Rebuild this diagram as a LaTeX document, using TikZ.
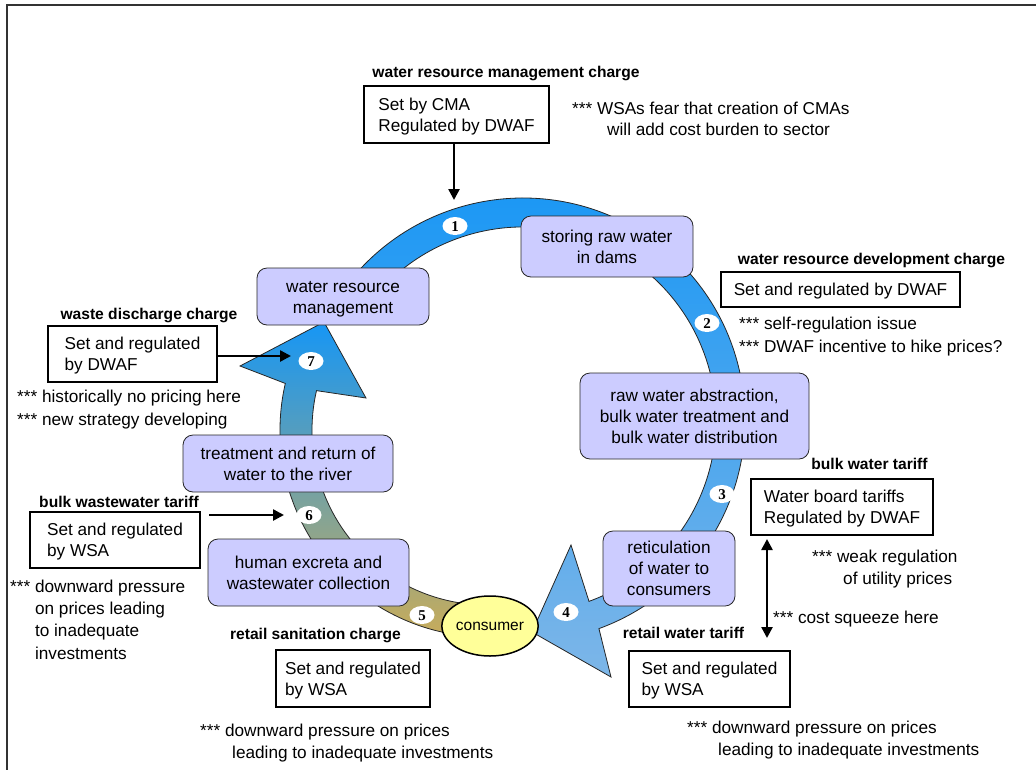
\documentclass[tikz,border=0pt]{standalone}
\usepackage{fontspec}
\setmainfont{Liberation Sans}
\newfontfamily\numfont{Liberation Serif}
\usetikzlibrary{shapes.geometric,arrows.meta}
\definecolor{lav}{RGB}{204,204,255}
\definecolor{cons}{RGB}{255,255,153}
\definecolor{bTop}{RGB}{22,150,245}
\definecolor{aBot}{RGB}{125,182,232}
\definecolor{bMid}{RGB}{115,163,205}
\definecolor{bBot}{RGB}{200,172,90}
\begin{document}
\begin{tikzpicture}[x=1pt,y=-1pt,
  proc/.style={draw=black!85, line width=0.8pt, fill=lav, rounded corners=10pt, align=center, inner sep=0pt, font=\fontsize{17.2}{21}\selectfont},
  chg/.style={draw=black, line width=2pt, fill=white, align=left, inner sep=0pt, font=\fontsize{17.2}{21}\selectfont},
  oneline/.style={text height=12.2pt, text depth=0pt},
  twolines/.style={text height=33.2pt, text depth=0pt},
  threelines/.style={text height=54.2pt, text depth=0pt},
  lbl/.style={anchor=base, inner sep=0pt, font=\bfseries\fontsize{15.6}{18}\selectfont},
  note/.style={anchor=base west, inner sep=0pt, align=left, font=\fontsize{17.2}{22}\selectfont},
  badge/.style={ellipse, fill=white, inner sep=0pt, minimum width=25pt, minimum height=18pt, text height=10pt, text depth=0pt, font=\numfont\bfseries\fontsize{15}{15}\selectfont},
  band/.style={draw=black!85, line width=0.8pt},
  conn/.style={line width=2.5pt, -{Triangle[length=11pt,width=11pt]}},
  dconn/.style={line width=2.5pt, {Triangle[length=11pt,width=11pt]}-{Triangle[length=11pt,width=11pt]}},
]
\useasboundingbox (0,0) rectangle (1036,769);
\clip (0,0) rectangle (1036,769);
\draw[line width=2pt, black!80] (7,5) rectangle (1050,790);

% clockwise supply arrow (1-4)
\begin{scope}[shift={(523,420)}]
\path[band, top color=bTop, bottom color=aBot]
  (-145:222) arc[start angle=-145, end angle=70, radius=222]
  -- (88,257) -- (9,212) -- (48,125)
  -- (70:193) arc[start angle=70, end angle=-145, radius=193] -- cycle;
\end{scope}
% return arrow (5-7)
\begin{scope}[shift={(487,430)}]
\path[band, top color=bTop, middle color=bMid, bottom color=bBot]
  (95:207) arc[start angle=95, end angle=193, radius=207]
  -- (-247,-64) -- (-163,-108) -- (-121,-32)
  -- (193:175) arc[start angle=193, end angle=95, radius=175] -- cycle;
\end{scope}

% badges
\node[badge] (n1) at (455,226) {1};
\node[badge] (n2) at (707,323) {2};
\node[badge] (n3) at (722,494) {3};
\node[badge] (n4) at (566,612) {4};
\node[badge] (n5) at (422,615) {5};
\node[badge] (n6) at (309,515) {6};
\node[badge] (n7) at (311,361) {7};

% process boxes
\node[proc, twolines, minimum width=172pt, minimum height=57pt] (wrm) at (343,296.5) {water resource\\management};
\node[proc, twolines, minimum width=172pt, minimum height=61pt] (store) at (607,246.5) {storing raw water\\in dams};
\node[proc, threelines, minimum width=229pt, minimum height=86pt] (raw) at (694.5,416) {raw water abstraction,\\bulk water treatment and\\bulk water distribution};
\node[proc, threelines, minimum width=132pt, minimum height=75pt] (retic) at (669,568.5) {reticulation\\of water to\\consumers};
\node[proc, twolines, minimum width=201pt, minimum height=67pt] (human) at (308.5,572.5) {human excreta and\\wastewater collection};
\node[proc, twolines, minimum width=210pt, minimum height=57pt] (treat) at (288,463.5) {treatment and return of\\water to the river};
\node[ellipse, draw=black, line width=1.5pt, fill=cons, inner sep=0pt, minimum width=86pt, minimum height=60pt, text height=8pt, text depth=0pt, font=\fontsize{15.5}{18}\selectfont] (cons) at (490,626) {consumer};

% charge labels and boxes
\node[lbl] (l1) at (506,77) {water resource management charge};
\node[chg, twolines, minimum width=185pt, minimum height=57pt] (box1) at (456.5,114.5) {Set by CMA\\Regulated by DWAF};
\node[lbl] (l2) at (871.5,264) {water resource development charge};
\node[chg, oneline, minimum width=239pt, minimum height=35pt] (box2) at (840.5,289.5) {Set and regulated by DWAF};
\node[lbl] (l3) at (869.5,469) {bulk water tariff};
\node[chg, twolines, minimum width=182pt, minimum height=56pt] (box3) at (842,507) {Water board tariffs\\Regulated by DWAF};
\node[lbl] (l4) at (683.5,638) {retail water tariff};
\node[chg, twolines, minimum width=161pt, minimum height=56pt] (box4) at (709.5,679) {Set and regulated\\by WSA};
\node[lbl] (l5) at (315.5,639) {retail sanitation charge};
\node[chg, twolines, minimum width=154pt, minimum height=57pt] (box5) at (353,678.5) {Set and regulated\\by WSA};
\node[lbl] (l6) at (119,507) {bulk wastewater tariff};
\node[chg, twolines, minimum width=170pt, minimum height=56pt] (box6) at (115,540) {Set and regulated\\by WSA};
\node[lbl] (l7) at (149,319) {waste discharge charge};
\node[chg, twolines, minimum width=169pt, minimum height=56pt] (box7) at (132.5,354) {Set and regulated\\by DWAF};

% notes (anchor = baseline of the last line)
\node[note, font=\fontsize{17.2}{21}\selectfont] (c1) at (572,135) {*** WSAs fear that creation of CMAs\\\hspace*{35pt}will add cost burden to sector};
\node[note, font=\fontsize{17.2}{23}\selectfont] (c2) at (739,352) {*** self-regulation issue\\*** DWAF incentive to hike prices?};
\node[note] (c3) at (812,584) {*** weak regulation\\\hspace*{31pt}of utility prices};
\node[note] (c4) at (773,623) {*** cost squeeze here};
\node[note] (c5) at (687,755) {*** downward pressure on prices\\\hspace*{31pt}leading to inadequate investments};
\node[note] (c6) at (200,758) {*** downward pressure on prices\\\hspace*{32pt}leading to inadequate investments};
\node[note, font=\fontsize{17.2}{22.3}\selectfont] (c7) at (10,659) {*** downward pressure\\\phantom{***}\ on prices leading\\\phantom{***}\ to inadequate\\\phantom{***}\ investments};
\node[note, font=\fontsize{17.2}{23}\selectfont] (c8) at (17,425) {*** historically no pricing here\\*** new strategy developing};

% connectors
\coordinate (t1) at (454,200);
\draw[conn] (box1.south -| t1) -- (t1);
\coordinate (t7) at (291,356);
\draw[conn] (box7.east |- t7) -- (t7);
\coordinate (t6) at (284,515);
\draw[conn, shorten <=8pt] (box6.east |- t6) -- (t6);
\coordinate (d1) at (767,539);
\coordinate (d2) at (767,638);
\draw[dconn] (d1) -- (d2);
\end{tikzpicture}
\end{document}
